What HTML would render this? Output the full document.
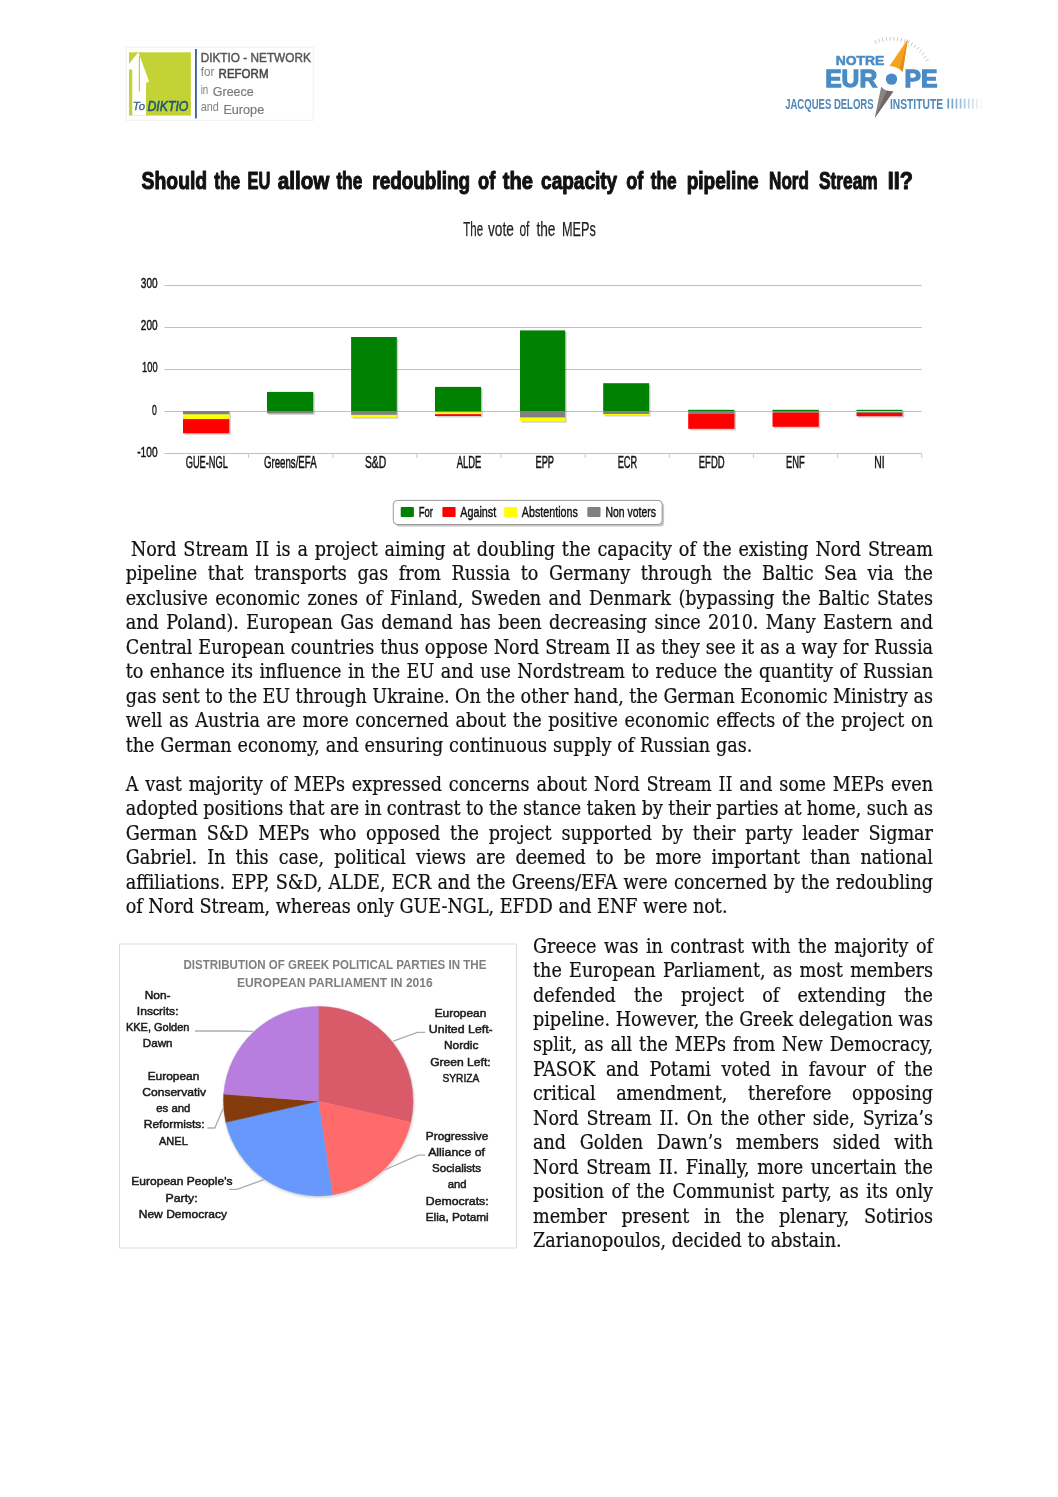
<!DOCTYPE html>
<html><head><meta charset="utf-8"><title>Nord Stream II</title>
<style>
html,body{margin:0;padding:0;background:#fff;}
body{width:1058px;height:1497px;position:relative;overflow:hidden;}
#pg{position:absolute;left:0;top:0;width:1058px;height:1497px;}
p{margin:0;}
.ln{display:block;position:absolute;font-family:"DejaVu Serif Condensed","DejaVu Serif","Liberation Serif",serif;font-size:19.56px;line-height:24px;height:24px;color:#111;white-space:nowrap;-webkit-text-stroke:0.2px #111;}
svg{position:absolute;left:0;top:0;}
svg text{font-family:"Liberation Sans",sans-serif;}
</style></head><body>
<div id="pg">
<p>
<span class="ln" style="left:130.90px;top:537.50px;word-spacing:1.246px">Nord Stream II is a project aiming at doubling the capacity of the existing Nord Stream</span>
<span class="ln" style="left:125.70px;top:562.02px;word-spacing:4.974px">pipeline that transports gas from Russia to Germany through the Baltic Sea via the</span>
<span class="ln" style="left:125.70px;top:586.55px;word-spacing:1.793px">exclusive economic zones of Finland, Sweden and Denmark (bypassing the Baltic States</span>
<span class="ln" style="left:125.70px;top:611.07px;word-spacing:1.814px">and Poland). European Gas demand has been decreasing since 2010. Many Eastern and</span>
<span class="ln" style="left:125.70px;top:635.60px;word-spacing:0.258px">Central European countries thus oppose Nord Stream II as they see it as a way for Russia</span>
<span class="ln" style="left:125.70px;top:660.12px;word-spacing:0.859px">to enhance its influence in the EU and use Nordstream to reduce the quantity of Russian</span>
<span class="ln" style="left:125.70px;top:684.65px;word-spacing:-0.134px">gas sent to the EU through Ukraine. On the other hand, the German Economic Ministry as</span>
<span class="ln" style="left:125.70px;top:709.17px;word-spacing:1.113px">well as Austria are more concerned about the positive economic effects of the project on</span>
<span class="ln" style="left:125.70px;top:733.70px;word-spacing:0.242px">the German economy, and ensuring continuous supply of Russian gas.</span>
</p>
<p>
<span class="ln" style="left:125.70px;top:772.80px;word-spacing:1.306px">A vast majority of MEPs expressed concerns about Nord Stream II and some MEPs even</span>
<span class="ln" style="left:125.70px;top:797.30px;word-spacing:-0.270px">adopted positions that are in contrast to the stance taken by their parties at home, such as</span>
<span class="ln" style="left:125.70px;top:821.80px;word-spacing:4.173px">German S&amp;D MEPs who opposed the project supported by their party leader Sigmar</span>
<span class="ln" style="left:125.70px;top:846.30px;word-spacing:4.511px">Gabriel. In this case, political views are deemed to be more important than national</span>
<span class="ln" style="left:125.70px;top:870.80px;word-spacing:0.615px">affiliations. EPP, S&amp;D, ALDE, ECR and the Greens/EFA were concerned by the redoubling</span>
<span class="ln" style="left:125.70px;top:895.30px;word-spacing:-0.023px">of Nord Stream, whereas only GUE-NGL, EFDD and ENF were not.</span>
</p>
<p>
<span class="ln" style="left:533.00px;top:934.80px;word-spacing:1.846px">Greece was in contrast with the majority of</span>
<span class="ln" style="left:533.00px;top:959.35px;word-spacing:1.672px">the European Parliament, as most members</span>
<span class="ln" style="left:533.00px;top:983.90px;word-spacing:12.600px">defended the project of extending the</span>
<span class="ln" style="left:533.00px;top:1008.45px;word-spacing:0.031px">pipeline. However, the Greek delegation was</span>
<span class="ln" style="left:533.00px;top:1033.00px;word-spacing:1.324px">split, as all the MEPs from New Democracy,</span>
<span class="ln" style="left:533.00px;top:1057.55px;word-spacing:4.958px">PASOK and Potami voted in favour of the</span>
<span class="ln" style="left:533.00px;top:1082.10px;word-spacing:15.042px">critical amendment, therefore opposing</span>
<span class="ln" style="left:533.00px;top:1106.65px;word-spacing:2.306px">Nord Stream II. On the other side, Syriza’s</span>
<span class="ln" style="left:533.00px;top:1131.20px;word-spacing:8.153px">and Golden Dawn’s members sided with</span>
<span class="ln" style="left:533.00px;top:1155.75px;word-spacing:1.971px">Nord Stream II. Finally, more uncertain the</span>
<span class="ln" style="left:533.00px;top:1180.30px;word-spacing:1.913px">position of the Communist party, as its only</span>
<span class="ln" style="left:533.00px;top:1204.85px;word-spacing:9.053px">member present in the plenary, Sotirios</span>
<span class="ln" style="left:533.00px;top:1229.40px;word-spacing:0.075px">Zarianopoulos, decided to abstain.</span>
</p>
</div>
<svg width="1058" height="1497" viewBox="0 0 1058 1497">
<text y="189.0" font-size="24.5" font-weight="bold" fill="#111" stroke="#111" stroke-width="1.1" stroke-linejoin="round"><tspan x="141.6" textLength="65.6" lengthAdjust="spacingAndGlyphs">Should</tspan> <tspan x="214.2" textLength="25.9" lengthAdjust="spacingAndGlyphs">the</tspan> <tspan x="247.5" textLength="22.8" lengthAdjust="spacingAndGlyphs">EU</tspan> <tspan x="277.7" textLength="51.6" lengthAdjust="spacingAndGlyphs">allow</tspan> <tspan x="336.4" textLength="25.8" lengthAdjust="spacingAndGlyphs">the</tspan> <tspan x="372.3" textLength="97.7" lengthAdjust="spacingAndGlyphs">redoubling</tspan> <tspan x="478.1" textLength="17.2" lengthAdjust="spacingAndGlyphs">of</tspan> <tspan x="502.7" textLength="30.2" lengthAdjust="spacingAndGlyphs">the</tspan> <tspan x="541.1" textLength="76.1" lengthAdjust="spacingAndGlyphs">capacity</tspan> <tspan x="626.2" textLength="17.1" lengthAdjust="spacingAndGlyphs">of</tspan> <tspan x="650.7" textLength="25.9" lengthAdjust="spacingAndGlyphs">the</tspan> <tspan x="686.7" textLength="71.9" lengthAdjust="spacingAndGlyphs">pipeline</tspan> <tspan x="769.1" textLength="39.8" lengthAdjust="spacingAndGlyphs">Nord</tspan> <tspan x="819.0" textLength="58.7" lengthAdjust="spacingAndGlyphs">Stream</tspan> <tspan x="887.8" textLength="25.1" lengthAdjust="spacingAndGlyphs">II?</tspan></text>
<text y="235.6" font-size="20.3" fill="#222" stroke="#222" stroke-width="0.25"><tspan x="463.3" textLength="19.8" lengthAdjust="spacingAndGlyphs">The</tspan> <tspan x="487.9" textLength="26.0" lengthAdjust="spacingAndGlyphs">vote</tspan> <tspan x="519.4" textLength="10.0" lengthAdjust="spacingAndGlyphs">of</tspan> <tspan x="536.4" textLength="19.1" lengthAdjust="spacingAndGlyphs">the</tspan> <tspan x="562.0" textLength="33.8" lengthAdjust="spacingAndGlyphs">MEPs</tspan></text>
<g id="barchart">
<rect x="164.5" y="285" width="757.2" height="1" fill="#c0c0c0"/>
<text x="157.6" y="288.4" font-size="15" text-anchor="end" fill="#111" font-weight="normal" textLength="16.8" lengthAdjust="spacingAndGlyphs" stroke="#111" stroke-width="0.45">300</text>
<rect x="164.5" y="327" width="757.2" height="1" fill="#c0c0c0"/>
<text x="157.6" y="330.4" font-size="15" text-anchor="end" fill="#111" font-weight="normal" textLength="16.8" lengthAdjust="spacingAndGlyphs" stroke="#111" stroke-width="0.45">200</text>
<rect x="164.5" y="369" width="757.2" height="1" fill="#c0c0c0"/>
<text x="157.6" y="372.0" font-size="15" text-anchor="end" fill="#111" font-weight="normal" textLength="15.5" lengthAdjust="spacingAndGlyphs" stroke="#111" stroke-width="0.45">100</text>
<rect x="164.5" y="411" width="757.2" height="1" fill="#c0c0c0"/>
<text x="156.7" y="415.2" font-size="15" text-anchor="end" fill="#111" font-weight="normal" textLength="4.8" lengthAdjust="spacingAndGlyphs" stroke="#111" stroke-width="0.45">0</text>
<rect x="164.5" y="453" width="757.2" height="1" fill="#c0c0c0"/>
<text x="157.6" y="457.3" font-size="15" text-anchor="end" fill="#111" font-weight="normal" textLength="20.4" lengthAdjust="spacingAndGlyphs" stroke="#111" stroke-width="0.45">-100</text>
<rect x="248.13" y="453.50" width="1" height="4.5" fill="#c9c9c9"/>
<rect x="332.27" y="453.50" width="1" height="4.5" fill="#c9c9c9"/>
<rect x="416.40" y="453.50" width="1" height="4.5" fill="#c9c9c9"/>
<rect x="500.53" y="453.50" width="1" height="4.5" fill="#c9c9c9"/>
<rect x="584.67" y="453.50" width="1" height="4.5" fill="#c9c9c9"/>
<rect x="668.80" y="453.50" width="1" height="4.5" fill="#c9c9c9"/>
<rect x="752.93" y="453.50" width="1" height="4.5" fill="#c9c9c9"/>
<rect x="837.07" y="453.50" width="1" height="4.5" fill="#c9c9c9"/>
<rect x="921.20" y="453.50" width="1" height="4.5" fill="#c9c9c9"/>
<rect x="184.5" y="412.5" width="46.3" height="22.3" fill="#000" opacity="0.18"/>
<rect x="183.0" y="411.00" width="46.3" height="3.40" fill="#808080"/>
<rect x="183.0" y="414.40" width="46.3" height="4.70" fill="#ffff00"/>
<rect x="183.0" y="419.10" width="46.3" height="14.20" fill="#ff0000"/>
<rect x="268.5" y="393.4" width="46.2" height="21.5" fill="#000" opacity="0.18"/>
<rect x="267.0" y="391.90" width="46.2" height="19.10" fill="#008000"/>
<rect x="267.0" y="411.00" width="46.2" height="2.40" fill="#808080"/>
<rect x="352.6" y="338.5" width="45.7" height="80.4" fill="#000" opacity="0.18"/>
<rect x="351.1" y="337.00" width="45.7" height="74.00" fill="#008000"/>
<rect x="351.1" y="411.00" width="45.7" height="3.90" fill="#808080"/>
<rect x="351.1" y="414.90" width="45.7" height="2.50" fill="#ffff00"/>
<rect x="436.5" y="388.4" width="46.1" height="29.1" fill="#000" opacity="0.18"/>
<rect x="435.0" y="386.90" width="46.1" height="24.10" fill="#008000"/>
<rect x="435.0" y="411.00" width="46.1" height="1.20" fill="#808080"/>
<rect x="435.0" y="412.20" width="46.1" height="2.00" fill="#ffff00"/>
<rect x="435.0" y="414.20" width="46.1" height="1.80" fill="#ff0000"/>
<rect x="521.5" y="331.9" width="45.2" height="90.9" fill="#000" opacity="0.18"/>
<rect x="520.0" y="330.40" width="45.2" height="80.60" fill="#008000"/>
<rect x="520.0" y="411.00" width="45.2" height="6.60" fill="#808080"/>
<rect x="520.0" y="417.60" width="45.2" height="3.70" fill="#ffff00"/>
<rect x="604.7" y="384.7" width="45.9" height="31.8" fill="#000" opacity="0.18"/>
<rect x="603.2" y="383.20" width="45.9" height="27.80" fill="#008000"/>
<rect x="603.2" y="411.00" width="45.9" height="3.00" fill="#808080"/>
<rect x="603.2" y="414.00" width="45.9" height="1.00" fill="#ffff00"/>
<rect x="689.7" y="411.3" width="46.3" height="19.0" fill="#000" opacity="0.18"/>
<rect x="688.2" y="409.80" width="46.3" height="1.20" fill="#008000"/>
<rect x="688.2" y="411.00" width="46.3" height="2.90" fill="#808080"/>
<rect x="688.2" y="413.90" width="46.3" height="14.90" fill="#ff0000"/>
<rect x="774.0" y="411.3" width="46.3" height="17.0" fill="#000" opacity="0.18"/>
<rect x="772.5" y="409.80" width="46.3" height="1.20" fill="#008000"/>
<rect x="772.5" y="411.00" width="46.3" height="1.60" fill="#808080"/>
<rect x="772.5" y="412.60" width="46.3" height="14.20" fill="#ff0000"/>
<rect x="858.0" y="411.3" width="46.0" height="6.4" fill="#000" opacity="0.18"/>
<rect x="856.5" y="409.80" width="46.0" height="1.20" fill="#008000"/>
<rect x="856.5" y="411.00" width="46.0" height="0.80" fill="#ffff00"/>
<rect x="856.5" y="411.80" width="46.0" height="1.00" fill="#808080"/>
<rect x="856.5" y="412.80" width="46.0" height="3.40" fill="#ff0000"/>
<text x="185.7" y="467.9" font-size="15.7" text-anchor="start" fill="#111" font-weight="normal" textLength="42.2" lengthAdjust="spacingAndGlyphs" stroke="#111" stroke-width="0.45">GUE-NGL</text>
<text x="263.9" y="467.9" font-size="15.7" text-anchor="start" fill="#111" font-weight="normal" textLength="52.8" lengthAdjust="spacingAndGlyphs" stroke="#111" stroke-width="0.45">Greens/EFA</text>
<text x="364.9" y="467.9" font-size="15.7" text-anchor="start" fill="#111" font-weight="normal" textLength="21.2" lengthAdjust="spacingAndGlyphs" stroke="#111" stroke-width="0.45">S&amp;D</text>
<text x="456.8" y="467.9" font-size="15.7" text-anchor="start" fill="#111" font-weight="normal" textLength="24.6" lengthAdjust="spacingAndGlyphs" stroke="#111" stroke-width="0.45">ALDE</text>
<text x="535.4" y="467.9" font-size="15.7" text-anchor="start" fill="#111" font-weight="normal" textLength="18.7" lengthAdjust="spacingAndGlyphs" stroke="#111" stroke-width="0.45">EPP</text>
<text x="617.7" y="467.9" font-size="15.7" text-anchor="start" fill="#111" font-weight="normal" textLength="19.5" lengthAdjust="spacingAndGlyphs" stroke="#111" stroke-width="0.45">ECR</text>
<text x="698.8" y="467.9" font-size="15.7" text-anchor="start" fill="#111" font-weight="normal" textLength="25.8" lengthAdjust="spacingAndGlyphs" stroke="#111" stroke-width="0.45">EFDD</text>
<text x="786.1" y="467.9" font-size="15.7" text-anchor="start" fill="#111" font-weight="normal" textLength="18.7" lengthAdjust="spacingAndGlyphs" stroke="#111" stroke-width="0.45">ENF</text>
<text x="874.3" y="467.9" font-size="15.7" text-anchor="start" fill="#111" font-weight="normal" textLength="10.4" lengthAdjust="spacingAndGlyphs" stroke="#111" stroke-width="0.45">NI</text>
<rect x="395.3" y="502.4" width="268.8" height="24.1" rx="4" fill="#000" opacity="0.22"/>
<rect x="393.3" y="500.4" width="268.8" height="24.1" rx="4" fill="#fff" stroke="#999" stroke-width="1"/>
<rect x="400.7" y="507" width="13.2" height="10" rx="1" fill="#008000"/>
<text x="418.8" y="516.6" font-size="15.4" text-anchor="start" fill="#111" font-weight="normal" textLength="14.2" lengthAdjust="spacingAndGlyphs" stroke="#111" stroke-width="0.45">For</text>
<rect x="442.4" y="507" width="13.2" height="10" rx="1" fill="#ff0000"/>
<text x="460.2" y="516.6" font-size="15.4" text-anchor="start" fill="#111" font-weight="normal" textLength="36.0" lengthAdjust="spacingAndGlyphs" stroke="#111" stroke-width="0.45">Against</text>
<rect x="504.2" y="507" width="13.2" height="10" rx="1" fill="#ffff00"/>
<text x="521.8" y="516.6" font-size="15.4" text-anchor="start" fill="#111" font-weight="normal" textLength="56.1" lengthAdjust="spacingAndGlyphs" stroke="#111" stroke-width="0.45">Abstentions</text>
<rect x="587.3" y="507" width="13.2" height="10" rx="1" fill="#808080"/>
<text x="605.4" y="516.6" font-size="15.4" text-anchor="start" fill="#111" font-weight="normal" textLength="50.5" lengthAdjust="spacingAndGlyphs" stroke="#111" stroke-width="0.45">Non voters</text>
</g>
<g id="pie">
<rect x="119.5" y="944" width="397" height="304" fill="#fff" stroke="#dcdcdc" stroke-width="1"/>
<defs><radialGradient id="pg1" cx="50%" cy="50%" r="50%"><stop offset="0.9" stop-color="#000" stop-opacity="0"/><stop offset="1" stop-color="#000" stop-opacity="0.03"/></radialGradient></defs>
<circle cx="318.8" cy="1102.4" r="97.0" fill="#000" opacity="0.04"/>
<circle cx="318.8" cy="1102.2" r="95.8" fill="#000" opacity="0.07"/>
<path d="M318.3,1101.2 L318.30,1006.40 A94.8,94.8 0 0 1 410.72,1122.29 Z" fill="#d95a69" stroke="#d95a69" stroke-width="0.5" stroke-linejoin="round"/>
<path d="M318.3,1101.2 L410.72,1122.29 A94.8,94.8 0 0 1 332.43,1194.94 Z" fill="#ff6b6b" stroke="#ff6b6b" stroke-width="0.5" stroke-linejoin="round"/>
<path d="M318.3,1101.2 L332.43,1194.94 A94.8,94.8 0 0 1 225.88,1122.29 Z" fill="#6699fb" stroke="#6699fb" stroke-width="0.5" stroke-linejoin="round"/>
<path d="M318.3,1101.2 L225.88,1122.29 A94.8,94.8 0 0 1 223.77,1094.12 Z" fill="#843c0c" stroke="#843c0c" stroke-width="0.5" stroke-linejoin="round"/>
<path d="M318.3,1101.2 L223.77,1094.12 A94.8,94.8 0 0 1 318.30,1006.40 Z" fill="#b77ee0" stroke="#b77ee0" stroke-width="0.5" stroke-linejoin="round"/>
<text x="334.9" y="969.4" font-size="13.3" text-anchor="middle" fill="#7f7f7f" font-weight="bold" textLength="302.9" lengthAdjust="spacingAndGlyphs">DISTRIBUTION OF GREEK POLITICAL PARTIES IN THE</text>
<text x="334.9" y="987.2" font-size="13.3" text-anchor="middle" fill="#7f7f7f" font-weight="bold" textLength="195.7" lengthAdjust="spacingAndGlyphs">EUROPEAN PARLIAMENT IN 2016</text>
<text x="157.6" y="999.0" font-size="11.6" text-anchor="middle" fill="#1a1a1a" font-weight="normal" textLength="25.8" lengthAdjust="spacingAndGlyphs" stroke="#1a1a1a" stroke-width="0.5">Non-</text>
<text x="157.7" y="1015.0" font-size="11.6" text-anchor="middle" fill="#1a1a1a" font-weight="normal" textLength="41.7" lengthAdjust="spacingAndGlyphs" stroke="#1a1a1a" stroke-width="0.5">Inscrits:</text>
<text x="157.7" y="1030.9" font-size="11.6" text-anchor="middle" fill="#1a1a1a" font-weight="normal" textLength="63.5" lengthAdjust="spacingAndGlyphs" stroke="#1a1a1a" stroke-width="0.5">KKE, Golden</text>
<text x="157.7" y="1047.2" font-size="11.6" text-anchor="middle" fill="#1a1a1a" font-weight="normal" textLength="29.7" lengthAdjust="spacingAndGlyphs" stroke="#1a1a1a" stroke-width="0.5">Dawn</text>
<text x="173.5" y="1079.8" font-size="11.6" text-anchor="middle" fill="#1a1a1a" font-weight="normal" textLength="51.6" lengthAdjust="spacingAndGlyphs" stroke="#1a1a1a" stroke-width="0.5">European</text>
<text x="174.1" y="1095.7" font-size="11.6" text-anchor="middle" fill="#1a1a1a" font-weight="normal" textLength="63.7" lengthAdjust="spacingAndGlyphs" stroke="#1a1a1a" stroke-width="0.5">Conservativ</text>
<text x="173.3" y="1112.0" font-size="11.6" text-anchor="middle" fill="#1a1a1a" font-weight="normal" textLength="34.2" lengthAdjust="spacingAndGlyphs" stroke="#1a1a1a" stroke-width="0.5">es and</text>
<text x="174.2" y="1127.9" font-size="11.6" text-anchor="middle" fill="#1a1a1a" font-weight="normal" textLength="61.0" lengthAdjust="spacingAndGlyphs" stroke="#1a1a1a" stroke-width="0.5">Reformists:</text>
<text x="173.4" y="1144.8" font-size="11.6" text-anchor="middle" fill="#1a1a1a" font-weight="normal" textLength="28.8" lengthAdjust="spacingAndGlyphs" stroke="#1a1a1a" stroke-width="0.5">ANEL</text>
<text x="181.9" y="1185.0" font-size="11.6" text-anchor="middle" fill="#1a1a1a" font-weight="normal" textLength="101.1" lengthAdjust="spacingAndGlyphs" stroke="#1a1a1a" stroke-width="0.5">European People's</text>
<text x="181.6" y="1201.9" font-size="11.6" text-anchor="middle" fill="#1a1a1a" font-weight="normal" textLength="32.1" lengthAdjust="spacingAndGlyphs" stroke="#1a1a1a" stroke-width="0.5">Party:</text>
<text x="182.9" y="1217.8" font-size="11.6" text-anchor="middle" fill="#1a1a1a" font-weight="normal" textLength="88.3" lengthAdjust="spacingAndGlyphs" stroke="#1a1a1a" stroke-width="0.5">New Democracy</text>
<text x="460.5" y="1017.0" font-size="11.6" text-anchor="middle" fill="#1a1a1a" font-weight="normal" textLength="51.6" lengthAdjust="spacingAndGlyphs" stroke="#1a1a1a" stroke-width="0.5">European</text>
<text x="460.8" y="1033.3" font-size="11.6" text-anchor="middle" fill="#1a1a1a" font-weight="normal" textLength="63.9" lengthAdjust="spacingAndGlyphs" stroke="#1a1a1a" stroke-width="0.5">United Left-</text>
<text x="461.2" y="1048.8" font-size="11.6" text-anchor="middle" fill="#1a1a1a" font-weight="normal" textLength="34.4" lengthAdjust="spacingAndGlyphs" stroke="#1a1a1a" stroke-width="0.5">Nordic</text>
<text x="460.4" y="1066.0" font-size="11.6" text-anchor="middle" fill="#1a1a1a" font-weight="normal" textLength="60.5" lengthAdjust="spacingAndGlyphs" stroke="#1a1a1a" stroke-width="0.5">Green Left:</text>
<text x="460.9" y="1081.9" font-size="11.6" text-anchor="middle" fill="#1a1a1a" font-weight="normal" textLength="36.9" lengthAdjust="spacingAndGlyphs" stroke="#1a1a1a" stroke-width="0.5">SYRIZA</text>
<text x="457.1" y="1139.6" font-size="11.6" text-anchor="middle" fill="#1a1a1a" font-weight="normal" textLength="62.5" lengthAdjust="spacingAndGlyphs" stroke="#1a1a1a" stroke-width="0.5">Progressive</text>
<text x="456.6" y="1155.9" font-size="11.6" text-anchor="middle" fill="#1a1a1a" font-weight="normal" textLength="56.9" lengthAdjust="spacingAndGlyphs" stroke="#1a1a1a" stroke-width="0.5">Alliance of</text>
<text x="456.6" y="1171.8" font-size="11.6" text-anchor="middle" fill="#1a1a1a" font-weight="normal" textLength="49.1" lengthAdjust="spacingAndGlyphs" stroke="#1a1a1a" stroke-width="0.5">Socialists</text>
<text x="457.1" y="1187.7" font-size="11.6" text-anchor="middle" fill="#1a1a1a" font-weight="normal" textLength="18.9" lengthAdjust="spacingAndGlyphs" stroke="#1a1a1a" stroke-width="0.5">and</text>
<text x="457.2" y="1205.1" font-size="11.6" text-anchor="middle" fill="#1a1a1a" font-weight="normal" textLength="62.9" lengthAdjust="spacingAndGlyphs" stroke="#1a1a1a" stroke-width="0.5">Democrats:</text>
<text x="457.2" y="1220.6" font-size="11.6" text-anchor="middle" fill="#1a1a1a" font-weight="normal" textLength="62.9" lengthAdjust="spacingAndGlyphs" stroke="#1a1a1a" stroke-width="0.5">Elia, Potami</text>
<polyline points="195.0,1031.0 237.0,1031.0 253.0,1031.3" fill="none" stroke="#adadad" stroke-width="1.3"/>
<polyline points="207.3,1128.0 214.8,1128.0 223.1,1108.6" fill="none" stroke="#adadad" stroke-width="1.3"/>
<polyline points="229.1,1189.4 237.0,1189.4 263.8,1179.7" fill="none" stroke="#adadad" stroke-width="1.3"/>
<polyline points="425.2,1032.3 417.3,1032.3 393.4,1041.2" fill="none" stroke="#adadad" stroke-width="1.3"/>
<polyline points="425.2,1155.1 418.3,1155.1 384.5,1170.0" fill="none" stroke="#adadad" stroke-width="1.3"/>
</g>
<defs><filter id="bl" x="-5%" y="-5%" width="110%" height="110%"><feGaussianBlur stdDeviation="0.45"/></filter></defs>
<g id="logoL" filter="url(#bl)">
<rect x="126.3" y="47.3" width="187" height="73" fill="#fff" stroke="#f1f1f1" stroke-width="1"/>
<rect x="129" y="52.3" width="61.9" height="63.3" fill="#c3d334"/>
<polygon points="129,64 138.3,52.3 139.6,55.5 149,81.3 146,83.2 146,115.6 132.3,115.6 132.3,69.5 129,69.5" fill="#fff"/>
<rect x="138.8" y="56" width="1.2" height="35.5" fill="#c3d334"/>
<text x="132.8" y="110.2" font-size="11.5" text-anchor="start" fill="#3b5f86" font-weight="normal" textLength="12.2" lengthAdjust="spacingAndGlyphs" font-style="italic" stroke="#3b5f86" stroke-width="0.3">To</text>
<text x="147.4" y="110.6" font-size="14" text-anchor="start" fill="#1d5675" font-weight="normal" textLength="41.0" lengthAdjust="spacingAndGlyphs" font-style="italic" stroke="#1d5675" stroke-width="0.55">DIKTIO</text>
<rect x="195.1" y="49" width="1.7" height="69.4" fill="#2f5597"/>
<text x="200.7" y="61.7" font-size="12.6" text-anchor="start" fill="#555" font-weight="normal" textLength="110.1" lengthAdjust="spacingAndGlyphs" stroke="#555" stroke-width="0.45">DIKTIO - NETWORK</text>
<text x="200.7" y="76.2" font-size="12.0" text-anchor="start" fill="#808080" font-weight="normal" textLength="13.6" lengthAdjust="spacingAndGlyphs">for</text>
<text x="218.6" y="78.4" font-size="12.6" text-anchor="start" fill="#444" font-weight="normal" textLength="49.9" lengthAdjust="spacingAndGlyphs" stroke="#444" stroke-width="0.5">REFORM</text>
<text x="200.7" y="93.5" font-size="12.0" text-anchor="start" fill="#808080" font-weight="normal" textLength="7.6" lengthAdjust="spacingAndGlyphs">in</text>
<text x="212.8" y="96.2" font-size="12.6" text-anchor="start" fill="#7a7a7a" font-weight="normal" textLength="40.9" lengthAdjust="spacingAndGlyphs" stroke="#7a7a7a" stroke-width="0.2">Greece</text>
<text x="200.7" y="110.7" font-size="12.0" text-anchor="start" fill="#808080" font-weight="normal" textLength="18.2" lengthAdjust="spacingAndGlyphs">and</text>
<text x="223.4" y="113.8" font-size="12.6" text-anchor="start" fill="#7a7a7a" font-weight="normal" textLength="40.8" lengthAdjust="spacingAndGlyphs" stroke="#7a7a7a" stroke-width="0.2">Europe</text>
</g>
<g id="logoR" filter="url(#bl)">
<line x1="876.4" y1="43.7" x2="874.9" y2="40.2" stroke="#c2c2c2" stroke-width="0.9"/>
<line x1="879.7" y1="42.4" x2="878.5" y2="38.8" stroke="#c2c2c2" stroke-width="0.9"/>
<line x1="883.1" y1="41.5" x2="882.3" y2="37.8" stroke="#c2c2c2" stroke-width="0.9"/>
<line x1="886.7" y1="40.9" x2="886.2" y2="37.1" stroke="#c2c2c2" stroke-width="0.9"/>
<line x1="890.2" y1="40.6" x2="890.1" y2="36.8" stroke="#c2c2c2" stroke-width="0.9"/>
<line x1="893.8" y1="40.7" x2="894.0" y2="36.9" stroke="#c2c2c2" stroke-width="0.9"/>
<line x1="897.3" y1="41.1" x2="897.9" y2="37.3" stroke="#c2c2c2" stroke-width="0.9"/>
<line x1="900.8" y1="41.8" x2="901.8" y2="38.1" stroke="#c2c2c2" stroke-width="0.9"/>
<line x1="904.3" y1="42.8" x2="905.5" y2="39.2" stroke="#c2c2c2" stroke-width="0.9"/>
<line x1="907.6" y1="44.2" x2="909.2" y2="40.7" stroke="#c2c2c2" stroke-width="0.9"/>
<line x1="910.7" y1="45.8" x2="912.6" y2="42.5" stroke="#c2c2c2" stroke-width="0.9"/>
<line x1="913.7" y1="47.7" x2="915.9" y2="44.6" stroke="#c2c2c2" stroke-width="0.9"/>
<line x1="916.5" y1="49.9" x2="919.0" y2="47.1" stroke="#c2c2c2" stroke-width="0.9"/>
<line x1="919.1" y1="52.4" x2="921.9" y2="49.7" stroke="#c2c2c2" stroke-width="0.9"/>
<line x1="921.5" y1="55.1" x2="924.4" y2="52.7" stroke="#c2c2c2" stroke-width="0.9"/>
<line x1="923.6" y1="58.0" x2="926.7" y2="55.9" stroke="#c2c2c2" stroke-width="0.9"/>
<line x1="925.4" y1="61.0" x2="928.7" y2="59.2" stroke="#c2c2c2" stroke-width="0.9"/>
<text x="835.7" y="64.7" font-size="12.0" text-anchor="start" fill="#4a8bc5" font-weight="bold" textLength="48.7" lengthAdjust="spacingAndGlyphs" stroke="#4a8bc5" stroke-width="0.5">NOTRE</text>
<text x="825.2" y="87.2" font-size="24.6" text-anchor="start" fill="#4a8bc5" font-weight="bold" textLength="52.0" lengthAdjust="spacingAndGlyphs" stroke="#4a8bc5" stroke-width="1.3">EUR</text>
<text x="904.6" y="87.2" font-size="24.6" text-anchor="start" fill="#4a8bc5" font-weight="bold" textLength="32.9" lengthAdjust="spacingAndGlyphs" stroke="#4a8bc5" stroke-width="1.3">PE</text>
<circle cx="891.6" cy="79.0" r="12.2" fill="#fff"/>
<path d="M907.8,39.1 L889.5,65.9 Q897.5,66.2 902.7,72 Z" fill="#f5a21b"/>
<path d="M907.8,39.1 L899.6,68.2 Q901.3,69.8 902.7,72 Z" fill="#e38d1a"/>
<path d="M874.7,118.1 L881.2,86.7 Q885.5,91.5 893.3,91.6 Z" fill="#8a8483"/>
<path d="M874.7,118.1 L886.8,90.6 Q889.5,91.6 893.3,91.6 Z" fill="#6f6868"/>
<circle cx="891.5" cy="79.1" r="5.7" fill="#4a8bc5"/>
<text x="785.2" y="108.6" font-size="14" text-anchor="start" fill="#4f87b8" font-weight="bold" textLength="88.4" lengthAdjust="spacingAndGlyphs">JACQUES DELORS</text>
<text x="890.0" y="108.6" font-size="14" text-anchor="start" fill="#4f87b8" font-weight="bold" textLength="53.0" lengthAdjust="spacingAndGlyphs">INSTITUTE</text>
<rect x="947.4" y="98.6" width="1.7" height="10" fill="#6b9bc7" opacity="1.00"/>
<rect x="951.5" y="98.6" width="1.7" height="10" fill="#6b9bc7" opacity="0.89"/>
<rect x="955.6" y="98.6" width="1.7" height="10" fill="#6b9bc7" opacity="0.77"/>
<rect x="959.7" y="98.6" width="1.7" height="10" fill="#6b9bc7" opacity="0.66"/>
<rect x="963.8" y="98.6" width="1.7" height="10" fill="#6b9bc7" opacity="0.54"/>
<rect x="967.9" y="98.6" width="1.7" height="10" fill="#6b9bc7" opacity="0.42"/>
<rect x="972.0" y="98.6" width="1.7" height="10" fill="#6b9bc7" opacity="0.31"/>
<rect x="976.1" y="98.6" width="1.7" height="10" fill="#6b9bc7" opacity="0.19"/>
<rect x="980.2" y="98.6" width="1.7" height="10" fill="#6b9bc7" opacity="0.08"/>
</g>
</svg>
</body></html>
